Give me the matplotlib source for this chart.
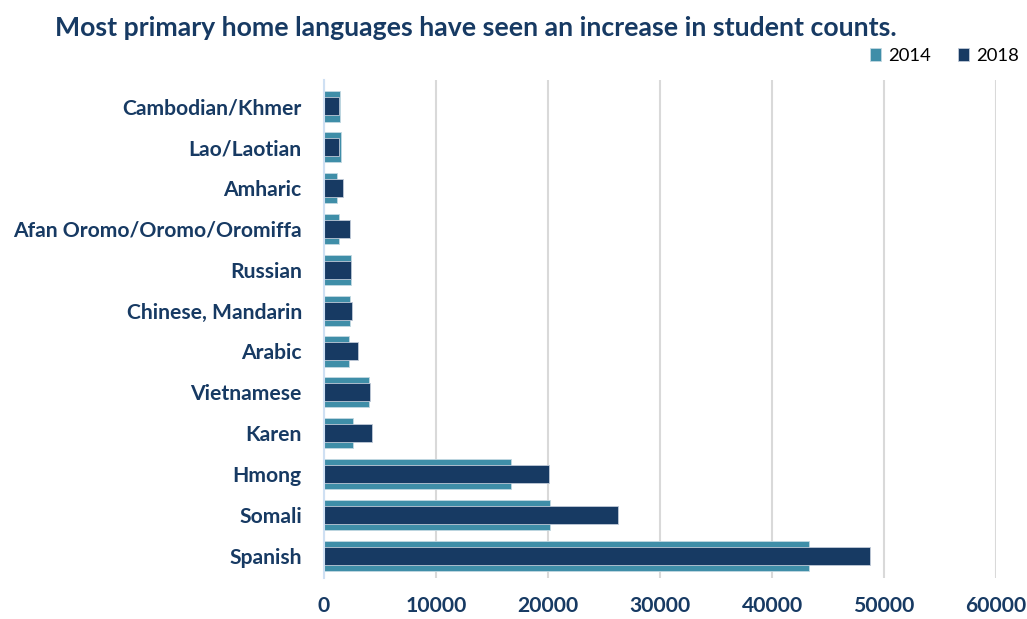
import matplotlib.pyplot as plt
import numpy as np

languages = ["Spanish", "Somali", "Hmong", "Karen", "Vietnamese", "Arabic",
             "Chinese, Mandarin", "Russian", "Afan Oromo/Oromo/Oromiffa",
             "Amharic", "Lao/Laotian", "Cambodian/Khmer"]
counts_2014 = [43300, 20150, 16700, 2600, 4000, 2200, 2280, 2420, 1350, 1200, 1530, 1440]
counts_2018 = [48700, 26250, 20100, 4300, 4120, 3050, 2480, 2400, 2300, 1710, 1380, 1350]

navy = "#173a63"
teal = "#3f8ea8"
font = ["Lato", "DejaVu Sans"]

fig = plt.figure(figsize=(10.27, 6.19), dpi=100)
ax = fig.add_axes([0.3155, 0.066, 0.6545, 0.805])

y = np.arange(len(languages))
ax.barh(y, counts_2014, height=0.74, color=teal, edgecolor="#c2d9e2", linewidth=0.6, label="2014", zorder=2)
ax.barh(y, counts_2018, height=0.44, color=navy, edgecolor="#c0cad8", linewidth=0.6, label="2018", zorder=3)

ax.set_xlim(0, 60000)
ax.set_ylim(-0.55, 11.65)
ax.set_xticks(range(0, 60001, 10000))
ax.set_yticks(y)
ax.set_yticklabels(languages)
for lab in ax.get_yticklabels() + ax.get_xticklabels():
    lab.set_family(font)
    lab.set_fontweight("bold")
    lab.set_fontsize(15.2)
    lab.set_color(navy)
ax.tick_params(axis="both", length=0)
ax.tick_params(axis="x", pad=13)
ax.tick_params(axis="y", pad=16)

ax.grid(axis="x", color="#d9d9d9", linewidth=1.5, zorder=0)
ax.set_axisbelow(True)
for s in ["top", "right", "bottom"]:
    ax.spines[s].set_visible(False)
ax.spines["left"].set_color("#cfe0f3")
ax.spines["left"].set_linewidth(1.5)
ax.spines["left"].set_zorder(4)

fig.text(0.054, 0.955, "Most primary home languages have seen an increase in student counts.",
         family=font, fontweight="bold", fontsize=19.2, color=navy, va="center")

leg = fig.legend(loc="center right", bbox_to_anchor=(0.992, 0.91), ncol=2, frameon=False,
                 borderpad=0, borderaxespad=0,
                 handlelength=0.6, handleheight=0.7, handletextpad=0.35, columnspacing=1.5,
                 prop={"family": font, "size": 13.3})

plt.savefig("out.png", dpi=100)
